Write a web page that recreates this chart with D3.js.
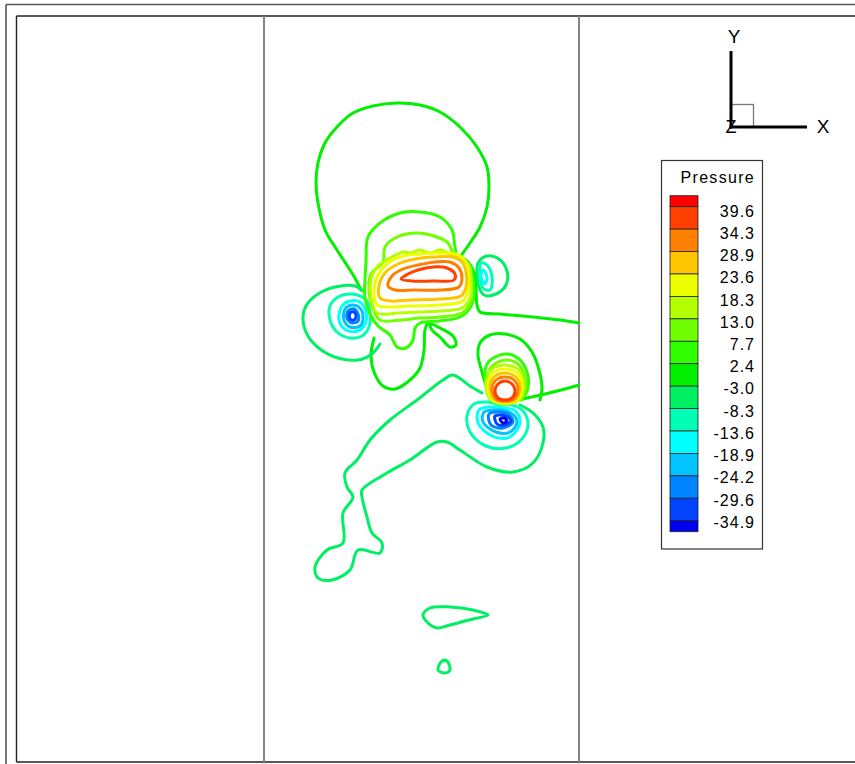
<!DOCTYPE html>
<html><head><meta charset="utf-8">
<script src="https://cdn.jsdelivr.net/npm/d3@7"></script>
<style>html,body{margin:0;padding:0;background:#fff;} svg{display:block;}</style>
</head><body><svg id="chart" width="855" height="764"></svg>
<script>
// ---- contour levels (Pressure) and legend colours ----
const levels = [39.6, 34.3, 28.9, 23.6, 18.3, 13.0, 7.7, 2.4, -3.0, -8.3, -13.6, -18.9, -24.2, -29.6, -34.9];
const levelLabels = ["39.6","34.3","28.9","23.6","18.3","13.0","7.7","2.4","-3.0","-8.3","-13.6","-18.9","-24.2","-29.6","-34.9"];
// 16 legend bands: top cap, one per level, bottom cap
const bandColors = ["#ff0000","#ff4000","#ff8000","#ffc400","#eeff00","#b4ff00","#70ff00","#30ff00",
                    "#00f000","#00f064","#00ffb4","#00ffff","#00c4ff","#0084ff","#0044ff","#0000f0"];

// ---- contour polylines, model coordinates [x, y] (channel 0..31.5 wide) ----
// upper body: positive blob
const blob396 = [[13.7,48.3],[14.4,48.8],[15.4,49.2],[16.9,49.5],[18.3,49.4],[19.1,48.8],[19.0,48.2],[17.1,48.1],[14.8,48.1]];
const blob343 = [[12.4,47.6],[12.8,48.6],[13.9,49.3],[15.4,49.7],[17.1,50.0],[18.6,50.0],[19.5,49.4],[19.8,48.4],[19.5,47.5],[17.6,47.2],[15.1,47.2],[13.1,47.2]];
const blob289 = [[11.6,46.4],[11.5,47.6],[12.1,48.9],[13.4,49.8],[15.1,50.3],[17.1,50.5],[18.9,50.5],[19.8,50.0],[20.2,49.0],[20.2,47.5],[19.7,46.6],[17.6,46.3],[14.6,46.2],[12.6,46.1]];
const blob236 = [[11.3,45.7],[11.0,47.2],[11.4,48.7],[12.4,49.9],[13.9,50.6],[15.6,50.8],[17.6,50.9],[19.2,50.8],[20.1,50.2],[20.4,49.0],[20.4,47.2],[19.9,46.1],[17.6,45.7],[14.6,45.6],[12.4,45.5]];
const blob183 = [[11.3,44.9],[10.7,46.4],[10.7,48.2],[11.3,49.5],[12.6,50.4],[13.9,51.0],[14.6,50.9],[15.6,51.2],[16.6,50.9],[17.6,51.2],[18.8,50.7],[19.8,50.4],[20.5,49.6],[20.7,48.0],[20.6,46.4],[19.8,45.4],[17.6,45.1],[15.6,45.0],[13.4,44.9]];
const blob130 = [[11.6,44.2],[10.8,45.6],[10.5,47.2],[10.7,48.8],[11.9,50.0],[12.1,51.5],[13.3,52.5],[15.3,52.9],[17.3,52.5],[18.4,51.9],[19.1,50.5],[20.4,49.8],[20.7,48.6],[20.8,47.0],[20.6,45.8],[19.8,44.9],[17.6,44.5],[15.6,44.4],[13.6,44.2]];
const blob77 = [[11.4,43.6],[10.6,44.8],[10.1,46.4],[10.1,48.2],[10.2,50.0],[10.4,52.5],[11.6,53.9],[13.6,54.9],[15.6,55.0],[17.6,54.5],[18.8,53.2],[19.1,51.5],[19.4,50.4],[20.6,49.7],[20.9,48.4],[21.0,46.6],[20.6,45.4],[19.6,44.5],[17.6,44.1],[15.6,43.9],[15.1,43.4],[14.9,42.2],[14.2,41.4],[13.3,41.5],[12.6,42.7]];
const bigLoop24 = [[9.7,47.2],[9.2,48.2],[8.6,49.2],[7.3,51.2],[6.1,53.2],[5.4,55.9],[5.2,57.9],[5.4,59.9],[6.1,61.9],[7.3,63.5],[8.9,64.9],[10.9,65.6],[13.3,65.9],[15.6,65.7],[17.6,65.0],[19.6,63.5],[21.3,61.5],[22.3,59.5],[22.5,57.5],[22.3,55.5],[21.6,53.5],[20.6,51.9],[19.6,50.5]];
const wallLine24 = [[19.6,50.6],[20.4,50.0],[21.0,49.0],[21.2,47.2],[21.3,45.7],[21.6,45.0],[23.6,44.8],[26.9,44.5],[29.6,44.2],[31.5,43.9]];
const underLoop24 = [[11.0,42.4],[10.7,40.7],[11.0,39.0],[11.9,37.6],[13.1,37.3],[14.6,38.2],[15.6,39.4],[16.0,41.2],[16.1,43.2],[16.4,44.0]];
const finger24 = [[16.6,43.8],[17.6,43.4],[18.9,42.6],[19.2,41.7],[18.6,41.5],[17.6,42.5],[16.8,43.2]];
// left vortex (negative)
const leftM30 = [[10.0,47.0],[9.1,47.6],[7.1,47.5],[5.4,46.8],[4.2,45.6],[3.9,44.2],[4.4,42.6],[5.6,41.3],[7.4,40.4],[9.4,40.2],[10.8,40.8],[11.6,41.8]];
const leftM83 = [[10.2,46.2],[8.8,46.8],[7.4,46.5],[6.6,45.6],[6.6,44.2],[7.3,43.0],[8.6,42.4],[9.8,42.6],[10.5,43.5],[10.6,44.9]];
const leftM136 = [[7.8,45.6],[8.6,46.1],[9.6,46.0],[10.2,45.0],[10.1,43.8],[9.4,43.1],[8.2,43.2],[7.5,44.2]];
const leftM189 = [[8.1,45.3],[8.8,45.7],[9.6,45.4],[9.9,44.4],[9.6,43.6],[8.6,43.5],[8.0,44.2]];
const leftM242 = [[8.4,45.1],[9.0,45.3],[9.4,44.8],[9.4,44.1],[8.8,43.9],[8.3,44.4]];
const leftM296 = [[8.6,44.9],[9.0,45.0],[9.2,44.6],[9.0,44.2],[8.6,44.3]];
// right vortex (negative)
const rightM30 = [[21.4,49.9],[22.3,50.6],[23.5,50.3],[24.3,49.1],[24.2,47.7],[23.2,46.8],[22.0,46.7],[21.5,47.5],[21.3,48.8]];
const rightM83 = [[21.7,49.9],[22.3,49.7],[22.8,48.5],[22.6,47.2],[21.9,47.4],[21.6,48.7]];
const rightM136 = [[21.9,49.2],[22.3,48.5],[22.1,47.8],[21.7,48.5]];
// lower dipole: positive ring
const ring396 = [[24.1,38.1],[24.8,37.8],[25.1,37.1],[24.8,36.4],[24.1,36.2],[23.4,36.4],[23.1,37.1],[23.4,37.8]];
const ring343 = [[24.1,38.5],[25.0,38.2],[25.4,37.3],[25.0,36.3],[24.1,36.1],[23.2,36.3],[22.8,37.3],[23.2,38.2]];
const ring289 = [[24.1,38.9],[25.2,38.5],[25.6,37.5],[25.2,36.3],[24.1,36.0],[23.0,36.3],[22.6,37.5],[23.0,38.5]];
const ring236 = [[24.1,39.3],[25.3,38.9],[25.8,37.7],[25.4,36.3],[24.1,35.9],[22.8,36.3],[22.4,37.7],[22.9,38.9]];
const ring183 = [[24.1,39.7],[25.4,39.3],[26.0,37.9],[25.6,36.3],[24.1,35.8],[22.6,36.3],[22.2,37.9],[22.8,39.3]];
const ring130 = [[22.7,36.4],[22.3,38.0],[22.6,39.3],[23.4,40.0],[24.4,40.2],[25.5,39.7],[26.1,38.4],[26.1,37.0],[25.6,36.2]];
const ring77 = [[22.6,36.4],[22.1,38.2],[22.3,39.8],[23.1,40.5],[24.3,40.8],[25.5,40.3],[26.3,39.0],[26.4,37.4],[25.8,36.2]];
const ring24 = [[22.5,36.7],[21.8,39.0],[21.4,40.7],[21.6,41.9],[22.6,42.7],[24.1,42.8],[25.6,42.3],[26.8,41.0],[27.5,39.2],[27.8,37.4],[27.6,36.2]];
const ringWall24 = [[25.4,36.2],[28.1,36.8],[30.1,37.3],[31.5,37.7]];
// lower dipole: negative core
const coreM83 = [[22.4,36.0],[21.0,35.8],[20.3,34.6],[20.6,33.0],[22.2,31.6],[24.2,31.4],[25.7,32.2],[26.4,33.7],[25.9,35.1],[24.8,35.7],[23.6,35.7]];
const coreM136 = [[22.6,35.5],[21.5,35.2],[21.4,33.9],[22.8,32.6],[24.3,32.4],[25.3,33.2],[25.6,34.2],[25.0,35.2],[23.9,35.4]];
const coreM189 = [[22.0,35.0],[21.9,34.0],[23.2,33.0],[24.6,33.0],[25.3,34.0],[24.7,34.9],[23.4,35.2]];
const coreM242 = [[22.5,34.8],[22.7,33.7],[23.9,33.4],[24.9,34.0],[24.4,34.8],[23.4,35.0]];
const coreM296 = [[23.1,34.6],[23.3,33.8],[24.1,33.7],[24.7,34.1],[24.2,34.6]];
const coreM349 = [[23.6,34.3],[23.9,33.9],[24.3,34.1],[24.0,34.4]];
// wake
const wakeM30 = [[21.8,36.9],[20.6,37.6],[18.9,38.7],[17.9,38.2],[15.3,36.2],[12.6,34.2],[10.6,32.2],[9.3,30.2],[8.1,28.9],[8.3,27.5],[8.9,26.5],[7.9,24.9],[7.9,21.9],[6.3,21.2],[5.1,19.5],[5.4,18.4],[6.8,18.2],[8.6,19.2],[9.4,21.2],[11.6,20.9],[11.8,21.9],[10.8,22.9],[10.3,24.5],[9.8,26.5],[9.8,27.2],[12.3,28.9],[14.6,30.2],[17.3,32.0],[18.3,32.0],[19.6,31.2],[22.3,29.5],[24.9,29.0],[26.9,29.9],[27.9,31.9],[27.9,33.5],[26.9,34.9],[25.6,35.7]];
const leafM30 = [[15.9,14.7],[16.6,15.4],[18.6,15.5],[20.9,15.2],[22.4,14.7],[20.9,14.3],[18.6,13.7],[17.3,13.4],[16.4,13.9]];
const dotM30 = [[17.8,10.1],[18.3,10.1],[18.6,9.2],[18.1,8.9],[17.4,9.2]];

// table of contours: level index into `levels`, closed flag, points
const contours = [
  {lev: 8, closed: false, pts: wakeM30}, {lev: 8, closed: true, pts: leafM30}, {lev: 8, closed: true, pts: dotM30},
  {lev: 7, closed: false, pts: bigLoop24}, {lev: 7, closed: false, pts: wallLine24},
  {lev: 7, closed: false, pts: underLoop24}, {lev: 7, closed: true, pts: finger24},
  {lev: 7, closed: false, pts: ring24}, {lev: 7, closed: false, pts: ringWall24},
  {lev: 8, closed: false, pts: leftM30}, {lev: 9, closed: true, pts: leftM83}, {lev: 10, closed: true, pts: leftM136},
  {lev: 11, closed: true, pts: leftM189}, {lev: 12, closed: true, pts: leftM242}, {lev: 13, closed: true, pts: leftM296},
  {lev: 8, closed: true, pts: rightM30}, {lev: 9, closed: true, pts: rightM83}, {lev: 10, closed: true, pts: rightM136},
  {lev: 9, closed: true, pts: coreM83}, {lev: 10, closed: true, pts: coreM136}, {lev: 11, closed: true, pts: coreM189},
  {lev: 12, closed: true, pts: coreM242}, {lev: 13, closed: true, pts: coreM296}, {lev: 14, closed: true, pts: coreM349},
  {lev: 6, closed: true, pts: blob77}, {lev: 5, closed: true, pts: blob130}, {lev: 4, closed: true, pts: blob183},
  {lev: 3, closed: true, pts: blob236}, {lev: 2, closed: true, pts: blob289}, {lev: 1, closed: true, pts: blob343},
  {lev: 0, closed: true, pts: blob396},
  {lev: 6, closed: false, pts: ring77}, {lev: 5, closed: false, pts: ring130}, {lev: 4, closed: true, pts: ring183},
  {lev: 3, closed: true, pts: ring236}, {lev: 2, closed: true, pts: ring289}, {lev: 1, closed: true, pts: ring343},
  {lev: 0, closed: true, pts: ring396}
];

const svg = d3.select("#chart");
const W = 855, H = 764;

// model -> screen scales (channel between the two walls)
const x = d3.scaleLinear().domain([0, 31.5]).range([264, 579]);
const y = d3.scaleLinear().domain([0, 74.6]).range([762, 16]);

// frames
svg.append("line").attr("x1", 6).attr("y1", 4.5).attr("x2", W).attr("y2", 4.5).attr("stroke", "#555").attr("stroke-width", 1.6);
svg.append("line").attr("x1", 6).attr("y1", 4.5).attr("x2", 6).attr("y2", H).attr("stroke", "#555").attr("stroke-width", 1.6);
svg.append("line").attr("x1", 16.5).attr("y1", 16).attr("x2", W).attr("y2", 16).attr("stroke", "#222").attr("stroke-width", 1.4);
svg.append("line").attr("x1", 16.5).attr("y1", 16).attr("x2", 16.5).attr("y2", 762).attr("stroke", "#222").attr("stroke-width", 1.4);
svg.append("line").attr("x1", 16.5).attr("y1", 762).attr("x2", W).attr("y2", 762).attr("stroke", "#222").attr("stroke-width", 1.4);

// channel walls
svg.selectAll("line.wall").data([0, 31.5]).join("line").attr("class", "wall")
  .attr("x1", d => x(d)).attr("x2", d => x(d)).attr("y1", y(74.6)).attr("y2", y(0))
  .attr("stroke", "#858585").attr("stroke-width", 2);

// contour lines
const lineOpen = d3.line().x(d => x(d[0])).y(d => y(d[1])).curve(d3.curveCatmullRom.alpha(0.5));
const lineClosed = d3.line().x(d => x(d[0])).y(d => y(d[1])).curve(d3.curveCatmullRomClosed.alpha(0.5));
svg.append("g").selectAll("path").data(contours).join("path")
  .attr("d", d => (d.closed ? lineClosed : lineOpen)(d.pts))
  .attr("fill", "none")
  .attr("stroke", d => bandColors[d.lev + 1])
  .attr("stroke-width", 3)
  .attr("stroke-linejoin", "round").attr("stroke-linecap", "round");

// axis triad
const font = "'Liberation Sans', Arial, sans-serif";
const tri = svg.append("g");
tri.append("text").attr("x", 731).attr("y", 133).attr("text-anchor", "middle").attr("font-family", font).attr("font-size", 18).text("Z");
tri.append("rect").attr("x", 731).attr("y", 104.5).attr("width", 22.5).attr("height", 22.5).attr("fill", "none").attr("stroke", "#777").attr("stroke-width", 1.3);
tri.append("line").attr("x1", 731).attr("y1", 51).attr("x2", 731).attr("y2", 128.5).attr("stroke", "#000").attr("stroke-width", 3);
tri.append("line").attr("x1", 729.5).attr("y1", 127).attr("x2", 807).attr("y2", 127).attr("stroke", "#000").attr("stroke-width", 3);
tri.append("text").attr("x", 734).attr("y", 43).attr("text-anchor", "middle").attr("font-family", font).attr("font-size", 19).text("Y");
tri.append("text").attr("x", 823).attr("y", 133).attr("text-anchor", "middle").attr("font-family", font).attr("font-size", 19).text("X");

// legend
const leg = svg.append("g");
leg.append("rect").attr("x", 661.5).attr("y", 160.5).attr("width", 101).attr("height", 388.5)
  .attr("fill", "#fff").attr("stroke", "#333").attr("stroke-width", 1.2);
leg.append("text").attr("x", 755).attr("y", 183).attr("text-anchor", "end").attr("font-family", font)
  .attr("font-size", 16).attr("letter-spacing", 1.3).text("Pressure");
const bandEdge = d3.scaleLinear().domain([0, 14]).range([206.7, 520.7]);
const bands = bandColors.map((c, i) => ({
  c, y0: i === 0 ? 195.7 : bandEdge(i - 1), y1: i === 15 ? 531.7 : bandEdge(i)
}));
leg.selectAll("rect.band").data(bands).join("rect").attr("class", "band")
  .attr("x", 670).attr("width", 28).attr("y", d => d.y0).attr("height", d => d.y1 - d.y0)
  .attr("fill", d => d.c).attr("stroke", "#222").attr("stroke-width", 0.8);
const labelY = d3.scaleLinear().domain([0, 14]).range([211, 522]);
leg.selectAll("text.lab").data(levelLabels).join("text").attr("class", "lab")
  .attr("x", 755).attr("y", (d, i) => labelY(i)).attr("dy", "0.36em")
  .attr("text-anchor", "end").attr("font-family", font).attr("font-size", 16).attr("letter-spacing", 1.0)
  .text(d => d);
</script>
</body></html>
